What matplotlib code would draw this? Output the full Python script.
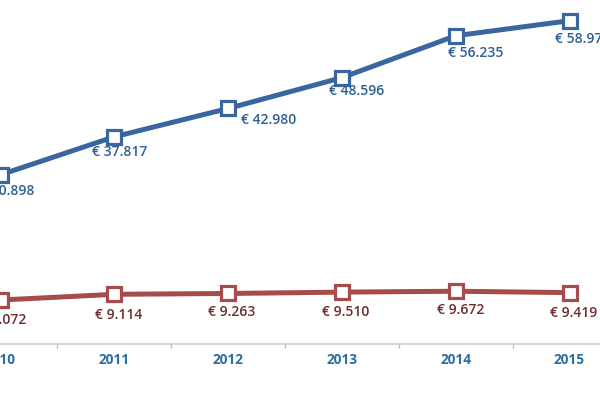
import matplotlib.pyplot as plt

# Data
years = ['2010', '2011', '2012', '2013', '2014', '2015']
blue_vals = [30.898, 37.817, 42.980, 48.596, 56.235, 58.975]
red_vals = [8.072, 9.114, 9.263, 9.510, 9.672, 9.419]
blue_labels = ['€ 30.898', '€ 37.817', '€ 42.980', '€ 48.596', '€ 56.235', '€ 58.975']
red_labels = ['€ 8.072', '€ 9.114', '€ 9.263', '€ 9.510', '€ 9.672', '€ 9.419']

# label offsets in pixels (dx, dy) relative to the point
blue_offsets = [(6, -16), (5, -15), (41, -12), (15, -13), (20, -17), (13, -18)]
red_offsets = [(2, -20), (4, -21), (4, -19), (4, -20), (5, -19), (4, -20)]

blue_line = '#3a66a0'
red_line = '#a64c4c'
blue_text = '#2e5f8e'
red_text = '#6c2d30'
tick_text = '#2a6e9f'

plt.rcParams['font.family'] = ['Open Sans', 'DejaVu Sans']

fig = plt.figure(figsize=(6, 4), dpi=100)
ax = fig.add_axes([0, 0, 1, 1])

x = list(range(len(years)))
ax.plot(x, blue_vals, color=blue_line, lw=3.6, marker='s', ms=10,
        mfc='white', mec=blue_line, mew=2.3, zorder=3, clip_on=False)
ax.plot(x, red_vals, color=red_line, lw=3.6, marker='s', ms=10,
        mfc='white', mec=red_line, mew=2.3, zorder=3, clip_on=False)

for i in x:
    ax.annotate(blue_labels[i], (i, blue_vals[i]), xytext=blue_offsets[i],
                textcoords='offset pixels', ha='center', va='center',
                color=blue_text, fontsize=10, fontweight='semibold')
    ax.annotate(red_labels[i], (i, red_vals[i]), xytext=red_offsets[i],
                textcoords='offset pixels', ha='center', va='center',
                color=red_text, fontsize=10, fontweight='semibold')

# category axis, ticks between categories
ax.set_xlim(-0.0044, 5.268)
ax.set_ylim(-10.15, 62.75)
ax.axhline(0, color='#cfcfcf', lw=1.2, zorder=1)
ax.vlines([i + 0.5 for i in x], -0.6, 0, color='#bdbdbd', lw=1)
for i in x:
    ax.text(i, -2.9, years[i], ha='center', va='center', color=tick_text,
            fontsize=9.8, fontweight='bold')

ax.axis('off')
fig.savefig('out.png', dpi=100)
